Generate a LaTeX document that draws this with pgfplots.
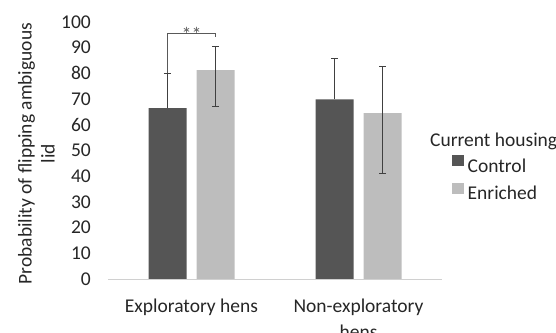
\documentclass[border=0pt]{standalone}
\usepackage{pgfplots}
\pgfplotsset{compat=1.18}
\usepackage{fontspec}
\setmainfont{Carlito}
\definecolor{ctrl}{HTML}{555555}
\definecolor{enr}{HTML}{BDBDBD}
\definecolor{errc}{HTML}{404040}
\definecolor{axc}{HTML}{D0D0D0}
\definecolor{txt}{HTML}{262626}
\definecolor{brk}{HTML}{595959}
\begin{document}
\begin{tikzpicture}
\path[use as bounding box] (0,0) rectangle (556bp,333bp);
\begin{axis}[
  at={(108bp,54bp)}, anchor=south west,
  scale only axis, width=334bp, height=257bp,
  xmin=-0.5, xmax=1.5, ymin=0, ymax=100,
  ytick={0,10,...,100},
  xtick={0,1},
  xticklabels={Exploratory hens,{Non-exploratory\\hens}},
  major tick length=0pt,
  axis x line*=bottom, axis y line*=left,
  x axis line style={draw=axc, line width=0.8bp, -},
  y axis line style={draw=none},
  /pgf/number format/assume math mode=true,
  ticklabel style={font=\fontsize{19.5bp}{26bp}\selectfont, text=txt},
  yticklabel style={inner sep=0pt, anchor=east, xshift=-17bp},
  xticklabel style={inner sep=0pt, anchor=north, align=center, yshift=-20bp},
  ylabel={Probability of flipping ambiguous\\lid},
  ylabel style={font=\fontsize{19.5bp}{23bp}\selectfont, text=txt, align=center,
    at={(axis description cs:-0.214,0.488)}, anchor=center},
  ybar, bar width=38bp,
  error bars/error bar style={draw=errc, line width=1bp},
  error bars/error mark options={draw=errc, rotate=90, mark size=3.5bp, line width=1bp},
  legend style={draw=none, fill=none, inner sep=0pt, row sep=9.5bp, column sep=0pt,
    font=\fontsize{19.5bp}{22bp}\selectfont, text=txt,
    nodes={inner sep=0pt},
    at={(axis description cs:1.030,0.392)}, anchor=west},
  legend cell align=left,
  legend image code/.code={\fill[#1] (0bp,0bp) rectangle (10.5bp,10.5bp); \path (0bp,0bp) rectangle (12bp,10.5bp);},
]
\addplot[fill=ctrl, draw=none, bar shift=-24bp,
  error bars/.cd, y dir=plus, y explicit]
  coordinates {(0,66.5) +- (0,13.6) (1,69.9) +- (0,16.0)};
\addlegendentry{\hspace*{3.5bp}Control}
\addplot[fill=enr, draw=none, bar shift=24bp,
  error bars/.cd, y dir=both, y explicit]
  coordinates {(0,81.3) += (0,9.1) -= (0,14.0) (1,64.5) += (0,18.1) -= (0,23.4)};
\addlegendentry{\hspace*{3.5bp}Enriched}
\draw[draw=brk, line width=0.8bp] (axis cs:-0.1437,80.3) -- (axis cs:-0.1437,95.4) -- (axis cs:0.1437,95.4) -- (axis cs:0.1437,94.2);
\node[font=\fontsize{20bp}{20bp}\selectfont, text=brk, anchor=base, inner sep=0pt] at (axis cs:0,92.4) {**};
\end{axis}
\node[anchor=base west, inner sep=0pt, font=\fontsize{19.5bp}{22bp}\selectfont, text=txt] at (430bp,186.3bp) {Current housing};
\end{tikzpicture}
\end{document}
